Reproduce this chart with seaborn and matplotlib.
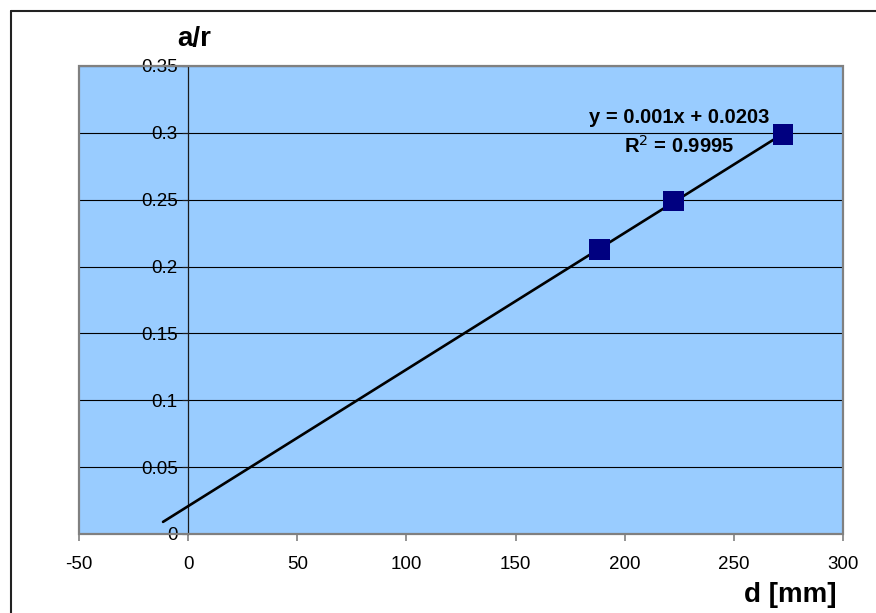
import numpy as np
import pandas as pd
import matplotlib
matplotlib.use("Agg")
import matplotlib.pyplot as plt
from matplotlib.lines import Line2D
from matplotlib.patches import Rectangle
import seaborn as sns

sns.set_style("white")
plt.rcParams['font.family'] = ['Liberation Sans', 'DejaVu Sans']
plt.rcParams['text.color'] = 'black'
plt.rcParams['xtick.labelcolor'] = 'black'
plt.rcParams['ytick.labelcolor'] = 'black'

d_mm = [188.5, 222.5, 272.5]
a_r = [0.213, 0.249, 0.299]
trend_start = -11.5          # backward forecast of the Excel trendline
eq_text = "y = 0.001x + 0.0203"
r2_text = "R$^2$ = 0.9995"
y_ticks = [0, 0.05, 0.1, 0.15, 0.2, 0.25, 0.3, 0.35]
x_ticks = [-50, 0, 50, 100, 150, 200, 250, 300]

df = pd.DataFrame({'d': d_mm, 'ar': a_r})

fig = plt.figure(figsize=(8.76, 6.13), dpi=100)
ax = fig.add_axes([79/876, 1 - 534/613, (843 - 79)/876, (534 - 66)/613])
ax.set_facecolor('#99ccff')

# linear trendline
slope, intercept = np.polyfit(df['d'], df['ar'], 1)
xs = np.array([trend_start, df['d'].max()])
ax.plot(xs, slope * xs + intercept, color='black', lw=1.9, zorder=3)

sns.scatterplot(data=df, x='d', y='ar', marker='s', s=225, color='#000080',
                edgecolor='none', ax=ax, zorder=4)

ax.set_xlim(x_ticks[0], x_ticks[-1])
ax.set_ylim(y_ticks[0], y_ticks[-1])
ax.set_xticks(x_ticks)
ax.set_yticks(y_ticks)
ax.set_yticklabels([f"{v:g}" for v in y_ticks])
ax.set_xticklabels([f"{v:g}" for v in x_ticks])
ax.set_xlabel('')
ax.set_ylabel('')

ax.grid(axis='y', color='black', lw=0.8)
ax.set_axisbelow(True)

for s in ['top', 'right', 'bottom']:
    ax.spines[s].set_visible(False)
ax.spines['left'].set_position(('data', 0))
ax.spines['left'].set_color('#1a1a1a')
ax.spines['left'].set_linewidth(0.9)
ax.spines['left'].set_zorder(2)

ax.tick_params(axis='y', direction='out', length=4.5, width=0.8, color='#1a1a1a',
               pad=3, labelsize=13.5, left=True, labelcolor='black')
ax.tick_params(axis='x', direction='out', length=5, width=1.2, color='#808080',
               pad=11, labelsize=13.5, bottom=True, labelcolor='black')

# grey plot-area frame
ax.add_patch(Rectangle((0, 0), 1, 1, transform=ax.transAxes, fill=False,
                       edgecolor='#808080', lw=1.6, zorder=5, clip_on=False))

ax.text(224.8, 0.3115, eq_text, ha='center', va='center', fontsize=14.5,
        fontweight='bold', color='black', zorder=6)
ax.text(224.8, 0.2905, r2_text, ha='center', va='center', fontsize=14.5,
        fontweight='bold', color='black', zorder=6)

fig.text(194/876, 1 - 39/613, 'a/r', ha='center', va='center',
         fontsize=20, fontweight='bold', color='black')
fig.text(790/876, 1 - 595/613, 'd [mm]', ha='center', va='center',
         fontsize=20, fontweight='bold', color='black')

# outer chart border (left and top edges visible)
fig.add_artist(Line2D([10.5/876, 10.5/876], [0, 1 - 11/613], color='#222222', lw=1.5))
fig.add_artist(Line2D([10.5/876, 1], [1 - 11/613, 1 - 11/613], color='#222222', lw=1.5))

fig.savefig('out.png', dpi=100)
